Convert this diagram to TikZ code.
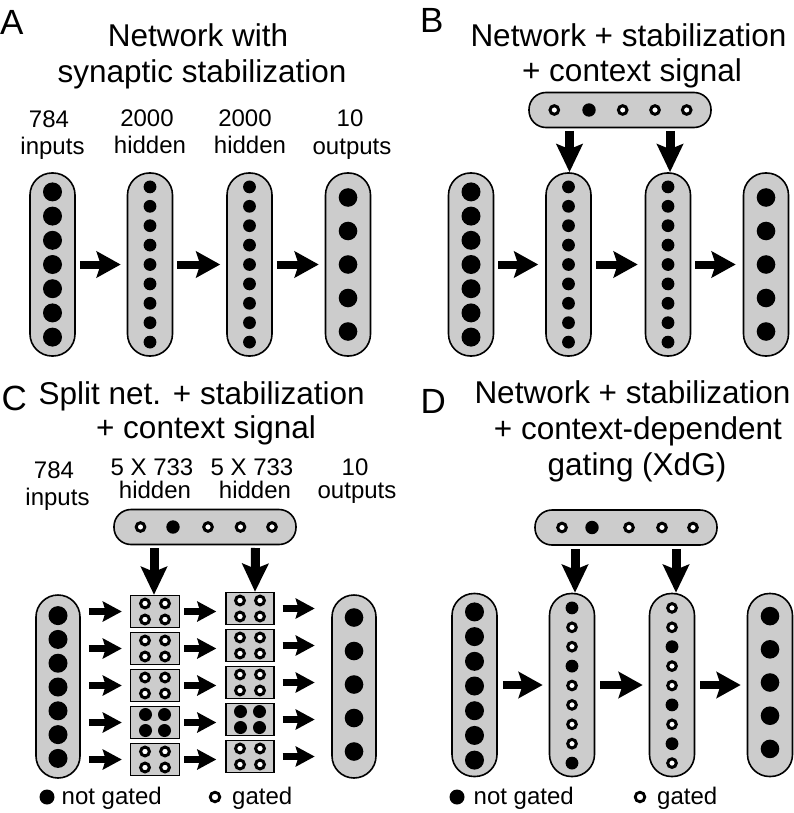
\documentclass[tikz,border=0pt]{standalone}
\usepackage{fontspec}
\setmainfont{Liberation Sans}
\usetikzlibrary{arrows.meta,calc}
\definecolor{pillgray}{RGB}{204,204,204}
\newcommand{\dotcol}[5]{\foreach \k in {-#3,...,#3} \fill[black] (#1,{#2+\k*#4}) circle[radius=#5];}
\begin{document}
\begin{tikzpicture}[x=1pt,y=-1pt,
  pill/.style={draw=black, line width=1.6pt, fill=pillgray, rounded corners=22pt, minimum width=45pt, minimum height=183pt, inner sep=0pt},
  ctx/.style={draw=black, line width=1.6pt, fill=pillgray, rounded corners=17pt, minimum width=182pt, minimum height=35pt, inner sep=0pt},
  gbox/.style={draw=black, line width=1.4pt, fill=pillgray, minimum width=49pt, minimum height=32pt, inner sep=0pt},
  opendot/.style={draw=black, fill=white, line width=3pt},
  bigarrow/.style={line width=8pt, -{Stealth[length=24pt, width=26pt, inset=4pt]}},
  downarrow/.style={line width=9pt, -{Stealth[length=28pt, width=26pt, inset=5pt]}},
  smallarrow/.style={line width=7pt, -{Stealth[length=19pt, width=20pt, inset=3pt]}},
  title/.style={anchor=base, inner sep=0pt, font=\fontsize{31.5}{36}\selectfont},
  lab/.style={anchor=base, inner sep=0pt, font=\fontsize{24}{28}\selectfont},
  leg/.style={anchor=base west, inner sep=0pt, font=\fontsize{24}{28}\selectfont},
  letter/.style={anchor=base west, inner sep=0pt, font=\fontsize{35}{40}\selectfont},
]
\fill[white] (0,0) rectangle (793,813);
\useasboundingbox (0,0) rectangle (793,813);

% ================= Panel A =================
\node[letter] (LA) at (0,35) {A};
\node[title] (tA1) at (198,47) {Network with};
\node[title] (tA2) at (202,83) {synaptic stabilization};
\node[lab] (lA1a) at (49,128) {784};
\node[lab] (lA1b) at (52.5,155) {inputs};
\node[lab] (lA2a) at (147,127) {2000};
\node[lab] (lA2b) at (150,154) {hidden};
\node[lab] (lA3a) at (245,127) {2000};
\node[lab] (lA3b) at (250,154) {hidden};
\node[lab] (lA4a) at (350,127) {10};
\node[lab] (lA4b) at (352,155) {outputs};

\node[pill] (a1) at (52.5,264.5) {};
\node[pill] (a2) at (150,264.5) {};
\node[pill] (a3) at (249.5,264.5) {};
\node[pill] (a4) at (348,264.5) {};
\dotcol{52.5}{264.5}{3}{24.2}{9.5}
\dotcol{150}{264.5}{4}{19.4}{6.4}
\dotcol{249.5}{264.5}{4}{19.4}{6.4}
\dotcol{348}{264.5}{2}{33.5}{9.3}
\draw[bigarrow] ([xshift=4pt]a1.east) -- ([xshift=-6pt]a2.west);
\draw[bigarrow] ([xshift=4pt]a2.east) -- ([xshift=-6pt]a3.west);
\draw[bigarrow] ([xshift=4pt]a3.east) -- ([xshift=-6pt]a4.west);

% ================= Panel B =================
\node[letter] (LB) at (420,33) {B};
\node[title] (tB1) at (628.5,47) {Network + stabilization};
\node[title] (tB2) at (632,82) {+ context signal};
\node[ctx] (bc) at (620,110) {};
\draw[opendot] (554.3,110) circle[radius=4.3];
\fill[black] (589,110) circle[radius=6.7];
\draw[opendot] (622.7,110) circle[radius=4.3];
\draw[opendot] (655,110) circle[radius=4.3];
\draw[opendot] (686.7,110) circle[radius=4.3];

\node[pill] (b1) at (471,264.5) {};
\node[pill] (b2) at (568.5,264.5) {};
\node[pill] (b3) at (668,264.5) {};
\node[pill] (b4) at (766,264.5) {};
\dotcol{471}{264.5}{3}{24.2}{9.5}
\dotcol{568.5}{264.5}{4}{19.4}{6.4}
\dotcol{668}{264.5}{4}{19.4}{6.4}
\dotcol{766}{264.5}{2}{33.5}{9.3}
\coordinate (bs2) at (569.5,131);
\coordinate (bs3) at (670,131);
\draw[downarrow] (bs2) -- ([xshift=1pt]b2.north);
\draw[downarrow] (bs3) -- ([xshift=2pt]b3.north);
\draw[bigarrow] ([xshift=4pt]b1.east) -- ([xshift=-7pt]b2.west);
\draw[bigarrow] ([xshift=4pt]b2.east) -- ([xshift=-7pt]b3.west);
\draw[bigarrow] ([xshift=4pt]b3.east) -- ([xshift=-7pt]b4.west);

% ================= Panel C =================
\node[letter] (LC) at (1.5,410) {C};
\node[title] (tC1) at (201.7,404) {Split net. + stabilization};
\node[title] (tC2) at (206,438) {+ context signal};
\node[lab] (lC1a) at (54,478) {784};
\node[lab] (lC1b) at (57.5,505) {inputs};
\node[lab] (lC2a) at (152,475) {5 X 733};
\node[lab] (lC2b) at (155,498) {hidden};
\node[lab] (lC3a) at (252,475) {5 X 733};
\node[lab] (lC3b) at (255,498) {hidden};
\node[lab] (lC4a) at (355,475) {10};
\node[lab] (lC4b) at (357,498) {outputs};

\node[ctx] (cc) at (205,527) {};
\draw[opendot] (140.5,527) circle[radius=4.3];
\fill[black] (173,527) circle[radius=6.7];
\draw[opendot] (208,527) circle[radius=4.3];
\draw[opendot] (240.5,527) circle[radius=4.3];
\draw[opendot] (272,527) circle[radius=4.3];

\node[pill, minimum width=44pt] (c1) at (58,686.5) {};
\node[pill, minimum width=44pt] (c4) at (354,686.5) {};
\dotcol{58}{687}{3}{23.8}{9.5}
\dotcol{354}{684.5}{2}{33.5}{9.3}

\foreach \i in {1,...,5} {
  \node[gbox] (cb\i) at (155,{611.5+(\i-1)*37}) {};
  \node[gbox, minimum width=48pt] (cd\i) at (250,{608.5+(\i-1)*37}) {};
}
\foreach \i in {1,2,3,5} {
  \foreach \dx in {-10,10} \foreach \dy in {-8,8} {
    \draw[opendot] ($(cb\i.center)+(\dx,\dy)$) circle[radius=4.4];
    \draw[opendot] ($(cd\i.center)+(\dx,\dy)$) circle[radius=4.4];
  }
}
\foreach \dx in {-9.5,9.5} \foreach \dy in {-8,8} {
  \fill[black] ($(cb4.center)+(\dx,\dy)$) circle[radius=6.5];
  \fill[black] ($(cd4.center)+(\dx,\dy)$) circle[radius=6.5];
}
\coordinate (cs1) at (154,548);
\coordinate (cs2) at (255.5,548);
\draw[downarrow] (cs1) -- ([xshift=-1pt]cb1.north);
\draw[downarrow] (cs2) -- ([xshift=5pt]cd1.north);
\foreach \i in {1,...,5} {
  \draw[smallarrow] ($(c1.east |- cb\i.west)+(8,0)$) -- ([xshift=-8pt]cb\i.west);
  \draw[smallarrow] ([xshift=4pt]cb\i.east) -- ($(cd\i.west |- cb\i.east)+(-9,0)$);
  \draw[smallarrow] ([xshift=8pt]cd\i.east) -- ($(c4.west |- cd\i.east)+(-16.5,0)$);
}
\fill[black] (47,797) circle[radius=7.5];
\node[leg] (nC1) at (61.5,804) {not gated};
\draw[draw=black, fill=white, line width=2.8pt] (215,797) circle[radius=4.8];
\node[leg] (nC2) at (232,804) {gated};

% ================= Panel D =================
\node[letter] (LD) at (420.5,413) {D};
\node[title] (tD1) at (632.5,403) {Network + stabilization};
\node[title] (tD2) at (638,439) {+ context-dependent};
\node[title] (tD3) at (637,475) {gating (XdG)};

\node[ctx] (dc) at (626,527.5) {};
\draw[opendot] (562,527.5) circle[radius=4.3];
\fill[black] (592,527.5) circle[radius=6.7];
\draw[opendot] (629,527.5) circle[radius=4.3];
\draw[opendot] (662,527.5) circle[radius=4.3];
\draw[opendot] (693,527.5) circle[radius=4.3];

\node[pill] (d1) at (474.5,685) {};
\node[pill] (d2) at (572,685) {};
\node[pill] (d3) at (672,685) {};
\node[pill] (d4) at (770,685) {};
\dotcol{474.5}{686}{3}{24.7}{9.5}
\dotcol{770}{682.5}{2}{33.2}{9.3}
\foreach \k in {-4,-1,4} \fill[black] (572,{685.5+\k*19.4}) circle[radius=6.4];
\foreach \k in {-3,-2,0,1,2,3} \draw[opendot] (572,{685.5+\k*19.4}) circle[radius=4.3];
\foreach \k in {-2,1,3} \fill[black] (672,{685.5+\k*19.4}) circle[radius=6.4];
\foreach \k in {-4,-3,-1,0,2,4} \draw[opendot] (672,{685.5+\k*19.4}) circle[radius=4.3];

\coordinate (ds2) at (575,549);
\coordinate (ds3) at (676,549);
\draw[downarrow] (ds2) -- ([xshift=3pt]d2.north);
\draw[downarrow] (ds3) -- ([xshift=4pt]d3.north);
\draw[bigarrow] ([xshift=5pt]d1.east) -- ([xshift=-6pt]d2.west);
\draw[bigarrow] ([xshift=5pt]d2.east) -- ([xshift=-6pt]d3.west);
\draw[bigarrow] ([xshift=5pt]d3.east) -- ([xshift=-6pt]d4.west);

\fill[black] (457,797) circle[radius=7.5];
\node[leg] (nD1) at (473.5,804) {not gated};
\draw[draw=black, fill=white, line width=2.8pt] (640,797) circle[radius=4.8];
\node[leg] (nD2) at (657,804) {gated};
\end{tikzpicture}
\end{document}
